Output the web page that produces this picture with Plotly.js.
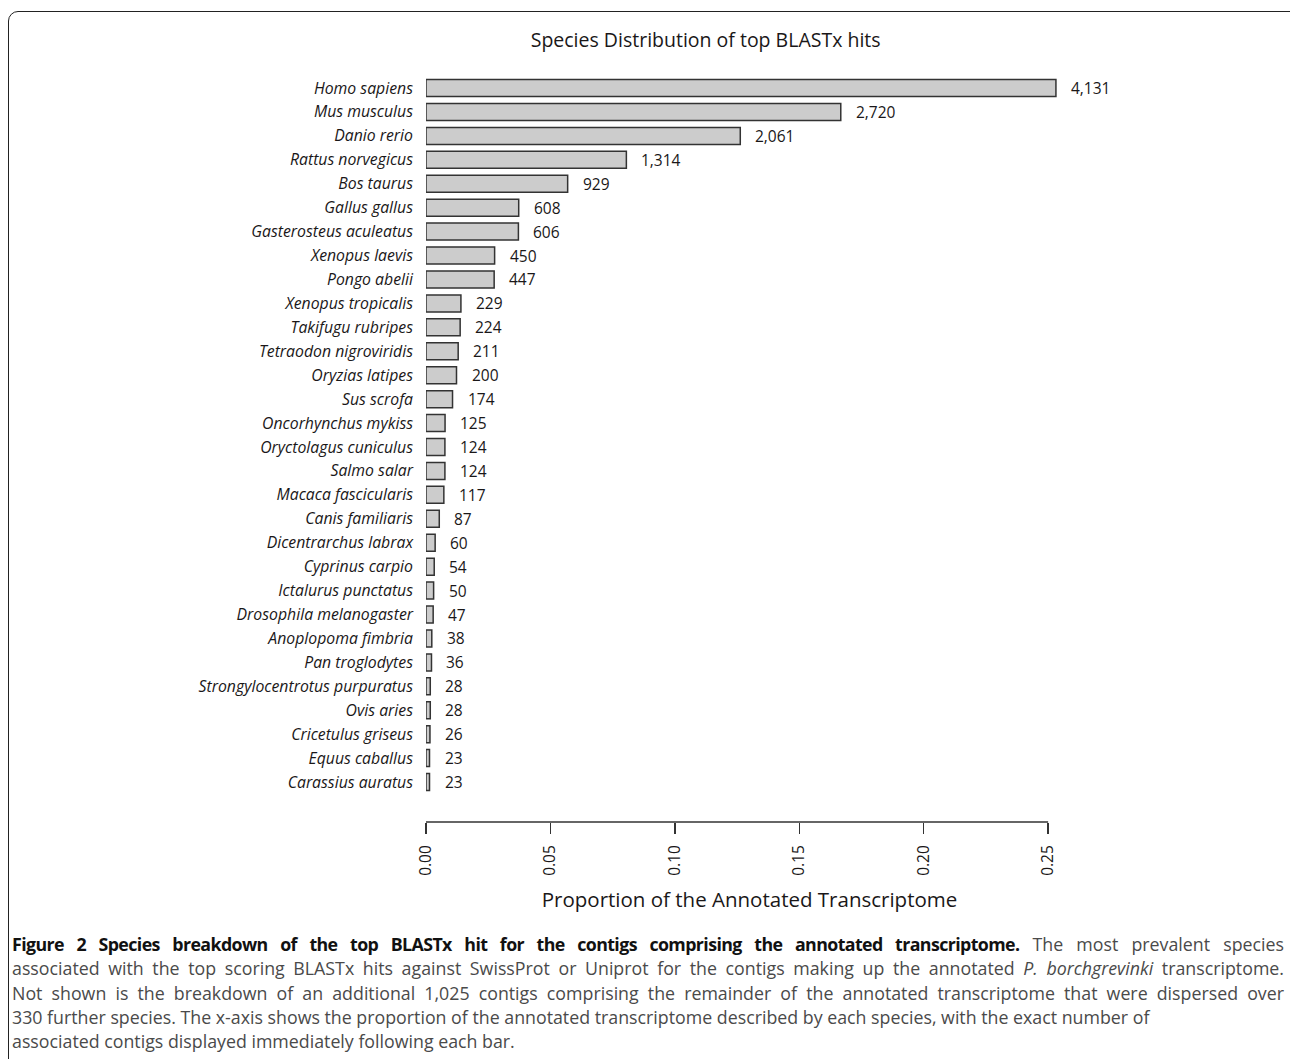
<!DOCTYPE html>
<html>
<head>
<meta charset="utf-8">
<script src="https://cdn.plot.ly/plotly-3.0.1.min.js"></script>
<style>
  html, body { margin: 0; padding: 0; background: #ffffff; }
  body { width: 1290px; height: 1059px; position: relative; overflow: hidden; font-family: "Open Sans", "Noto Sans", sans-serif; }
  #chart { position: absolute; left: 0; top: 0; width: 1290px; height: 930px; }
  #frame { position: absolute; left: 8px; top: 11px; width: 1300px; height: 1100px; border: 1.5px solid #222; border-radius: 10px; pointer-events: none; z-index: 5; box-sizing: border-box; }
  #caption { position: absolute; left: 12px; top: 932px; width: 1272px; font-size: 17.8px; line-height: 24.3px; color: #4a4a4a; }
  #caption .ln { white-space: nowrap; }
  #caption .j { text-align: justify; text-align-last: justify; }
  #caption b { color: #111; letter-spacing: -0.6px; }
</style>
</head>
<body>
<div id="chart"></div>
<div id="frame"></div>
<div id="caption">
  <div class="ln j"><b>Figure 2 Species breakdown of the top BLASTx hit for the contigs comprising the annotated transcriptome.</b> The most prevalent species</div>
  <div class="ln j">associated with the top scoring BLASTx hits against SwissProt or Uniprot for the contigs making up the annotated <i>P. borchgrevinki</i> transcriptome.</div>
  <div class="ln j">Not shown is the breakdown of an additional 1,025 contigs comprising the remainder of the annotated transcriptome that were dispersed over</div>
  <div class="ln">330 further species. The x-axis shows the proportion of the annotated transcriptome described by each species, with the exact number of</div>
  <div class="ln">associated contigs displayed immediately following each bar.</div>
</div>
<script>
// ---- data ----
const species = [
  "Homo sapiens", "Mus musculus", "Danio rerio", "Rattus norvegicus", "Bos taurus",
  "Gallus gallus", "Gasterosteus aculeatus", "Xenopus laevis", "Pongo abelii", "Xenopus tropicalis",
  "Takifugu rubripes", "Tetraodon nigroviridis", "Oryzias latipes", "Sus scrofa", "Oncorhynchus mykiss",
  "Oryctolagus cuniculus", "Salmo salar", "Macaca fascicularis", "Canis familiaris", "Dicentrarchus labrax",
  "Cyprinus carpio", "Ictalurus punctatus", "Drosophila melanogaster", "Anoplopoma fimbria", "Pan troglodytes",
  "Strongylocentrotus purpuratus", "Ovis aries", "Cricetulus griseus", "Equus caballus", "Carassius auratus"
];
const contigCounts = [
  4131, 2720, 2061, 1314, 929,
  608, 606, 450, 447, 229,
  224, 211, 200, 174, 125,
  124, 124, 117, 87, 60,
  54, 50, 47, 38, 36,
  28, 28, 26, 23, 23
];
const otherContigs = 1025;   // remainder not shown (330 further species)
const xTickVals = [0, 0.05, 0.10, 0.15, 0.20, 0.25];
const xTickText = ["0.00", "0.05", "0.10", "0.15", "0.20", "0.25"];

// ---- derived ----
const totalContigs = contigCounts.reduce((a, b) => a + b, 0) + otherContigs;
const proportions = contigCounts.map(c => c / totalContigs);
const countLabels = contigCounts.map(c => c.toLocaleString("en-US"));

const ink = "#1a1718";
const font = "Open Sans, Noto Sans, sans-serif";

const trace = {
  type: "bar",
  orientation: "h",
  x: proportions,
  y: species,
  marker: { color: "#cccccc", line: { color: "#333333", width: 1.5 } },
  hoverinfo: "y+x"
};

const annotations = species.map((s, i) => ({
  x: proportions[i], y: s, xref: "x", yref: "y",
  text: countLabels[i], showarrow: false,
  xanchor: "left", yanchor: "middle", xshift: 13,
  font: { family: font, size: 15.5, color: ink }
}));

const layout = {
  width: 1290, height: 930,
  paper_bgcolor: "rgba(0,0,0,0)", plot_bgcolor: "rgba(0,0,0,0)",
  margin: { l: 426, r: 217, t: 72, b: 108 },
  showlegend: false,
  bargap: 0.29,
  font: { family: font, color: ink },
  title: {
    text: "Species Distribution of top BLASTx hits",
    x: 0.547, xref: "container", xanchor: "center",
    y: 0.957, yref: "container", yanchor: "middle",
    font: { family: font, size: 19.5, color: ink }
  },
  xaxis: {
    range: [0, 0.26], autorange: false,
    tickvals: xTickVals, ticktext: xTickText,
    tickangle: -90,
    ticks: "outside", ticklen: 11, tickwidth: 1.5, tickcolor: "#333333",
    ticklabelstandoff: 5,
    showline: false, showgrid: false, zeroline: false,
    tickfont: { family: font, size: 15.5, color: ink },
    title: { text: "Proportion of the Annotated Transcriptome", standoff: 17,
             font: { family: font, size: 20.5, color: ink } }
  },
  yaxis: {
    type: "category",
    categoryorder: "array", categoryarray: species,
    range: [30.67, -0.67], autorange: false,
    showline: false, showgrid: false, zeroline: false, ticks: "",
    ticklabelstandoff: 12,
    tickfont: { family: font, size: 15.8, color: ink, style: "italic" }
  },
  shapes: [{
    type: "line", xref: "x", yref: "paper",
    x0: xTickVals[0], x1: xTickVals[xTickVals.length - 1], y0: 0, y1: 0,
    line: { color: "#333333", width: 1.5 }
  }],
  annotations: annotations
};

Plotly.newPlot("chart", [trace], layout, { displayModeBar: false, staticPlot: true });
</script>
</body>
</html>
